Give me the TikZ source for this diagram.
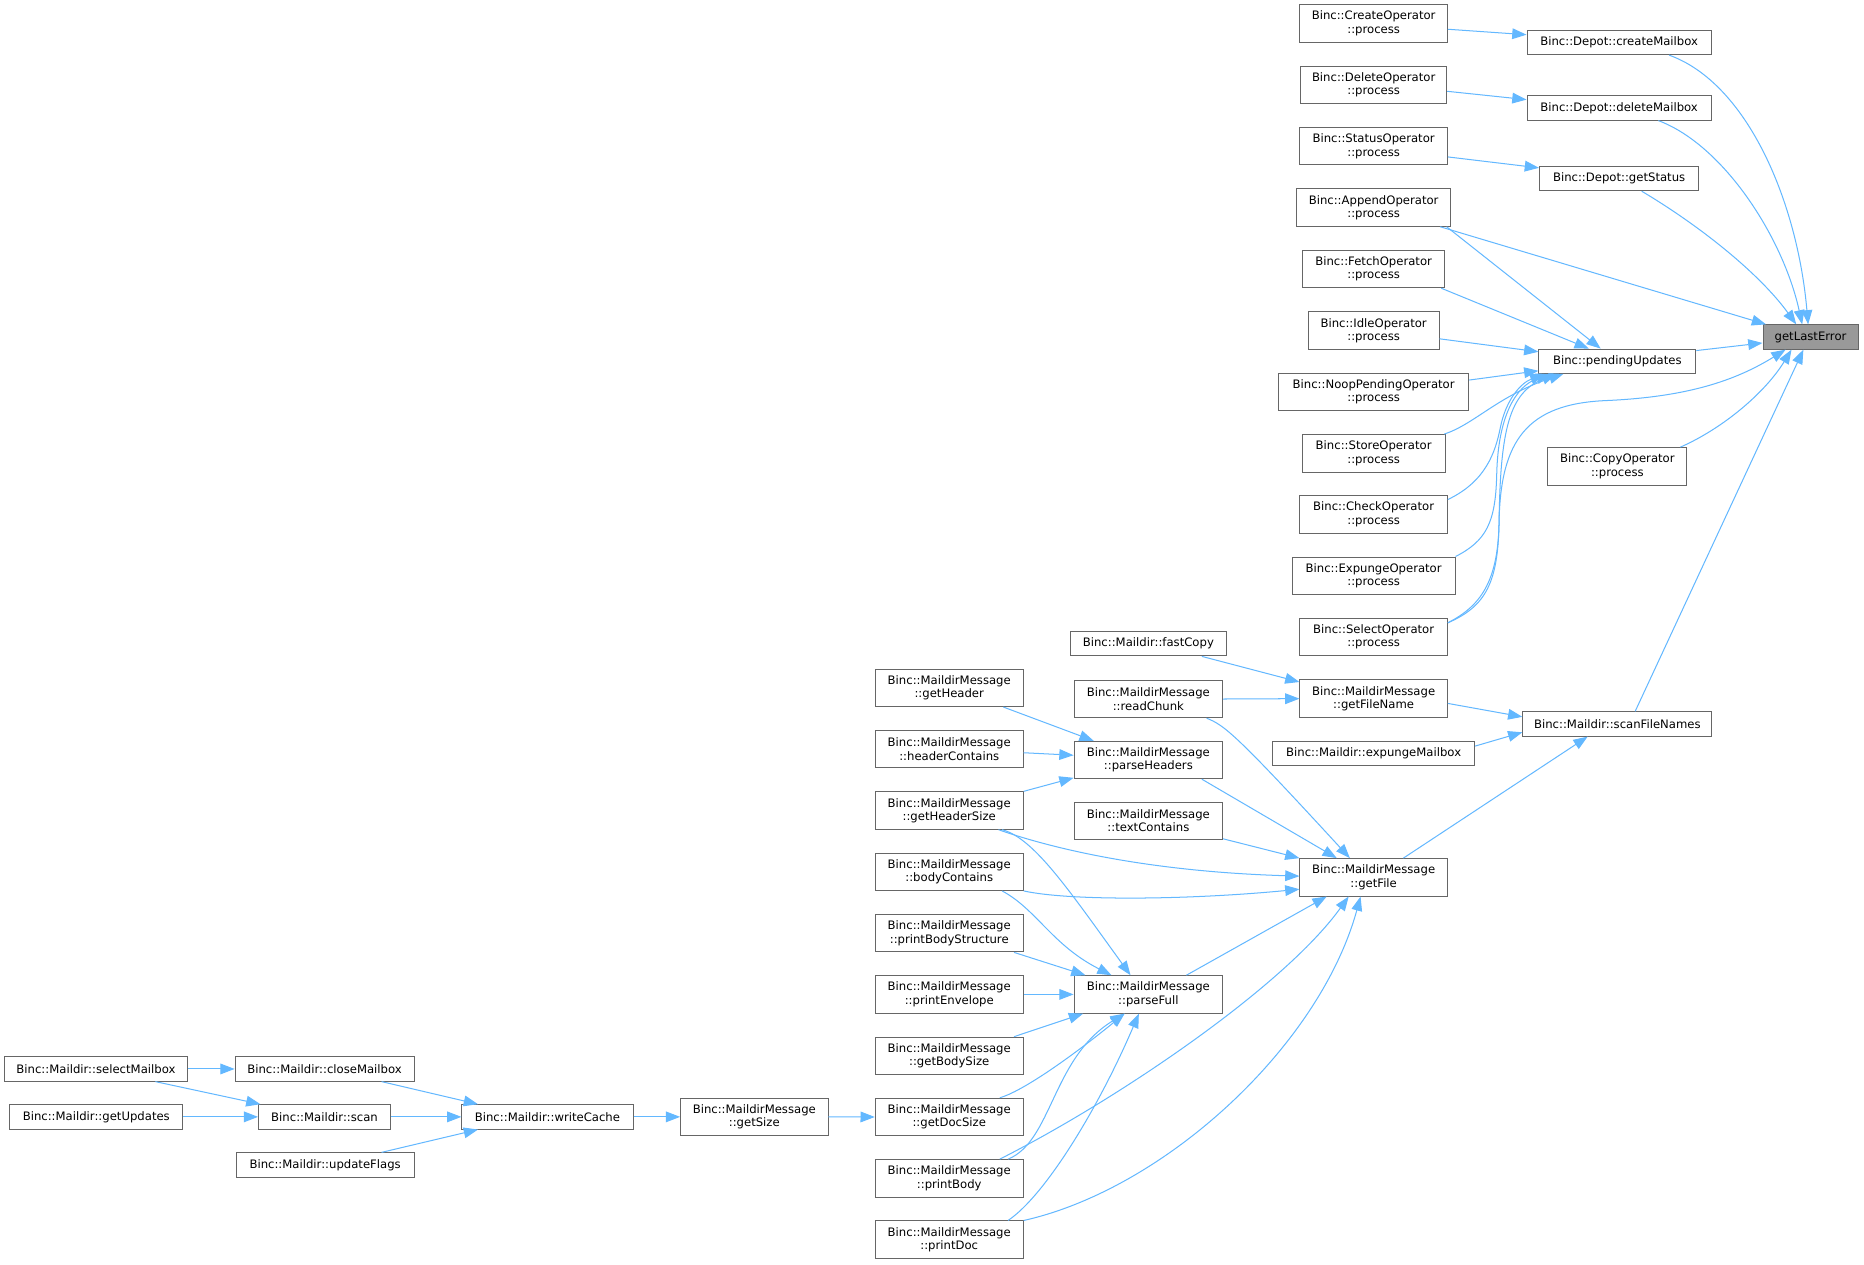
\documentclass[tikz,border=0pt]{standalone}
\usepackage{fontspec}
\setmainfont{DejaVu Sans}
\usetikzlibrary{arrows.meta,calc}
\definecolor{edgec}{HTML}{63B8FF}
\definecolor{boxc}{HTML}{666666}
\definecolor{hlc}{HTML}{999999}
\newcommand\dgfont{\fontsize{9.8}{11.2}\selectfont}
\tikzset{
  box/.style={draw=boxc, line width=0.8pt, fill=white, inner sep=0pt, align=center, font=\dgfont, minimum height=31.5pt},
  sbox/.style={box, minimum height=20.5pt},
  edge/.style={draw=edgec, line width=0.85pt, -{Triangle[length=12pt,width=9pt]}},
}
\begin{document}
\begin{tikzpicture}[x=1pt,y=-1pt]
\fill[white] (0,0) rectangle (1568,1063.3);
\useasboundingbox (0,0) rectangle (1568,1063.3);
% right
\node[sbox, fill=hlc, minimum width=80pt] (gle) at (1523,283.5) {getLastError};
\node[sbox, minimum width=155pt] (cmb) at (1362,35.7) {Binc::Depot::createMailbox};
\node[sbox, minimum width=155pt] (dmb) at (1362,90.8) {Binc::Depot::deleteMailbox};
\node[sbox, minimum width=134pt] (gst) at (1362,150.2) {Binc::Depot::getStatus};
\node[sbox, minimum width=132pt] (pu) at (1360.5,303.9) {Binc::pendingUpdates};
\node[box, minimum width=117pt] (copy) at (1360.5,392.3) {Binc::CopyOperator\\::process};
\node[sbox, minimum width=159pt] (sfn) at (1360.5,609) {Binc::Maildir::scanFileNames};
% column 3
\node[box, minimum width=124pt] (cop) at (1155.5,19.6) {Binc::CreateOperator\\::process};
\node[box, minimum width=123pt] (delop) at (1155.5,71.3) {Binc::DeleteOperator\\::process};
\node[box, minimum width=124pt] (stop) at (1155.5,123) {Binc::StatusOperator\\::process};
\node[box, minimum width=130pt] (apop) at (1155.5,174.6) {Binc::AppendOperator\\::process};
\node[box, minimum width=119pt] (feop) at (1155.5,226.3) {Binc::FetchOperator\\::process};
\node[box, minimum width=110pt] (idop) at (1155.5,278) {Binc::IdleOperator\\::process};
\node[box, minimum width=160pt] (noop) at (1155.5,329.7) {Binc::NoopPendingOperator\\::process};
\node[box, minimum width=120pt] (stoo) at (1155.5,381.3) {Binc::StoreOperator\\::process};
\node[box, minimum width=124pt] (chop) at (1155.5,432.7) {Binc::CheckOperator\\::process};
\node[box, minimum width=137pt] (exop) at (1155.5,484.3) {Binc::ExpungeOperator\\::process};
\node[box, minimum width=124pt] (seop) at (1155.5,535.9) {Binc::SelectOperator\\::process};
\node[box, minimum width=124pt] (gfn) at (1155.5,587.7) {Binc::MaildirMessage\\::getFileName};
\node[sbox, minimum width=170pt] (emb) at (1155.5,633.6) {Binc::Maildir::expungeMailbox};
\node[box, minimum width=124pt] (gf) at (1155.5,738) {Binc::MaildirMessage\\::getFile};
% column 4
\node[sbox, minimum width=131pt] (fc) at (966,541.5) {Binc::Maildir::fastCopy};
\node[box, minimum width=125pt] (rc) at (966,588) {Binc::MaildirMessage\\::readChunk};
\node[box, minimum width=125pt] (ph) at (966,639.3) {Binc::MaildirMessage\\::parseHeaders};
\node[box, minimum width=125pt] (tc) at (966,690.6) {Binc::MaildirMessage\\::textContains};
\node[box, minimum width=125pt] (pf) at (966,836.5) {Binc::MaildirMessage\\::parseFull};
% column 5
\node[box, minimum width=124.5pt] (gh) at (798.5,578.6) {Binc::MaildirMessage\\::getHeader};
\node[box, minimum width=124.5pt] (hc) at (798.5,630.2) {Binc::MaildirMessage\\::headerContains};
\node[box, minimum width=124.5pt] (ghs) at (798.5,681.8) {Binc::MaildirMessage\\::getHeaderSize};
\node[box, minimum width=124.5pt] (bc) at (798.5,733.3) {Binc::MaildirMessage\\::bodyContains};
\node[box, minimum width=124.5pt] (pbs) at (798.5,785) {Binc::MaildirMessage\\::printBodyStructure};
\node[box, minimum width=124.5pt] (pe) at (798.5,836.5) {Binc::MaildirMessage\\::printEnvelope};
\node[box, minimum width=124.5pt] (gbs) at (798.5,888.2) {Binc::MaildirMessage\\::getBodySize};
\node[box, minimum width=124.5pt] (gds) at (798.5,939.6) {Binc::MaildirMessage\\::getDocSize};
\node[box, minimum width=124.5pt] (pb) at (798.5,991.2) {Binc::MaildirMessage\\::printBody};
\node[box, minimum width=124.5pt] (pd) at (798.5,1042.8) {Binc::MaildirMessage\\::printDoc};
% left
\node[box, minimum width=124pt] (gsz) at (634.5,939.5) {Binc::MaildirMessage\\::getSize};
\node[sbox, minimum width=144pt] (wc) at (460.5,939.5) {Binc::Maildir::writeCache};
\node[sbox, minimum width=150.5pt] (cmbx) at (273,899.2) {Binc::Maildir::closeMailbox};
\node[sbox, minimum width=111pt] (scan) at (273,939.5) {Binc::Maildir::scan};
\node[sbox, minimum width=149.5pt] (uf) at (273.5,980) {Binc::Maildir::updateFlags};
\node[sbox, minimum width=154pt] (smb) at (80.7,899.2) {Binc::Maildir::selectMailbox};
\node[sbox, minimum width=145.6pt] (gu) at (81,939.5) {Binc::Maildir::getUpdates};
% edges top
\draw[edge] ($(cop.east)+(0,5)$) -- ($(cmb.west)+(0,-6.5)$);
\draw[edge] ($(delop.east)+(0,5.5)$) -- ($(dmb.west)+(0,-7)$);
\draw[edge] ($(stop.east)+(0,9)$) -- ($(gst.west)+(0,-9)$);
\draw[edge] ($(cmb.south)+(42,0)$) .. controls (1470,70) and (1512,170) .. ($(gle.north)+(-2,0)$);
\draw[edge] ($(dmb.south)+(33,0)$) .. controls (1450,122) and (1500,200) .. ($(gle.north)+(-7,0)$);
\draw[edge] ($(gst.south)+(19,0)$) .. controls (1430,190) and (1480,230) .. ($(gle.north)+(-12,0)$);
\draw[edge] ($(apop.south)+(56,0)$) -- ($(gle.north west)+(3,0)$);
\draw[edge] ($(pu.east)+(0,-9)$) -- ($(gle.west)+(0,5)$);
\draw[edge] ($(seop.east)+(0,-12)$) .. controls (1245,510) and (1260,490) .. (1261,440) .. controls (1262,370) and (1285,340) .. (1350,337) .. controls (1420,334) and (1460,320) .. ($(gle.south)+(-21,0)$);
\draw[edge] ($(copy.north)+(53,0)$) .. controls (1450,360) and (1485,330) .. ($(gle.south)+(-16,0)$);
\draw[edge] ($(sfn.north)+(15,0)$) -- ($(gle.south)+(-6,0)$);
\draw[edge] ($(apop.south east)+(-4,0)$) -- ($(pu.north)+(-14,0)$);
\draw[edge] ($(feop.south east)+(-3,0)$) -- ($(pu.north)+(-24,0)$);
\draw[edge] ($(idop.east)+(0,7)$) -- ($(pu.west)+(0,-8)$);
\draw[edge] ($(noop.east)+(0,-10)$) -- ($(pu.west)+(0,8)$);
\draw[edge] ($(stoo.north east)+(-1,0)$) .. controls (1240,357) and (1260,333) .. ($(pu.south west)+(21,0)$);
\draw[edge] ($(chop.east)+(0,-12.5)$) .. controls (1250,405) and (1258,380) .. (1262,360) .. controls (1267,335) and (1280,322) .. ($(pu.south west)+(5,0)$);
\draw[edge] (exop.north east) .. controls (1250,455) and (1258,440) .. (1259,400) .. controls (1260,350) and (1275,325) .. ($(pu.south west)+(10,0)$);
\draw[edge] ($(seop.east)+(0,-12)$) .. controls (1250,510) and (1260,490) .. (1261,440) .. controls (1262,360) and (1270,330) .. ($(pu.south west)+(15,0)$);
% edges middle
\draw[edge] ($(gfn.east)+(0,4)$) -- ($(sfn.west)+(0,-6)$);
\draw[edge] ($(emb.east)+(0,-6)$) -- ($(sfn.west)+(0,7)$);
\draw[edge] ($(gf.north)+(25,0)$) -- ($(sfn.south)+(-25,0)$);
\draw[edge] ($(fc.south)+(45,0)$) -- ($(gfn.west)+(0,-14)$);
\draw[edge] (rc.east) -- (gfn.west);
\draw[edge] ($(rc.south)+(49,0)$) .. controls (1030,610) and (1040,618) .. ($(gf.north)+(-20,0)$);
\draw[edge] ($(ph.south)+(45,0)$) -- ($(gf.north)+(-31,0)$);
\draw[edge] ($(tc.east)+(0,15)$) -- (gf.north west);
\draw[edge] ($(ghs.south)+(41.5,0)$) .. controls (880,712) and (960,733) .. ($(gf.west)+(0,-1)$);
\draw[edge] (bc.south east) .. controls (900,758) and (1000,757) .. ($(gf.west)+(0,10)$);
\draw[edge] ($(gh.south)+(45.5,0)$) -- ($(ph.north)+(-46,0)$);
\draw[edge] ($(hc.east)+(0,3)$) -- ($(ph.west)+(0,-4)$);
\draw[edge] (ghs.north east) -- ($(ph.west)+(0,15)$);
\draw[edge] ($(ghs.south)+(44.5,0)$) .. controls (870,705) and (900,750) .. ($(pf.north)+(-15,0)$);
\draw[edge] ($(bc.south)+(44.5,0)$) .. controls (872,765) and (885,795) .. ($(pf.north)+(-31,0)$);
\draw[edge] ($(pbs.south)+(54.5,0)$) -- ($(pf.north west)+(10,0)$);
\draw[edge] (pe.east) -- (pf.west);
\draw[edge] ($(pf.north)+(32,0)$) -- ($(gf.south)+(-39.5,0)$);
\draw[edge] ($(gbs.north)+(54.5,0)$) -- ($(pf.south west)+(8,0)$);
\draw[edge] ($(gds.north)+(42.5,0)$) .. controls (860,918) and (900,890) .. ($(pf.south)+(-20,0)$);
\draw[edge] ($(pb.north)+(49.5,0)$) .. controls (885,960) and (885,890) .. ($(pf.south)+(-20,0)$);
\draw[edge] ($(pd.north)+(49.5,0)$) .. controls (880,1005) and (925,930) .. ($(pf.south)+(-8,0)$);
\draw[edge] ($(pb.north)+(42.5,0)$) .. controls (940,925) and (1080,830) .. ($(gf.south)+(-21,0)$);
\draw[edge] (pd.north east) .. controls (980,1000) and (1110,880) .. ($(gf.south)+(-11,0)$);
% edges left
\draw[edge] (gsz.east) -- (gds.west);
\draw[edge] (wc.east) -- (gsz.west);
\draw[edge] ($(cmbx.south)+(48,0)$) -- ($(wc.north west)+(14,0)$);
\draw[edge] (scan.east) -- (wc.west);
\draw[edge] ($(uf.north)+(47.5,0)$) -- ($(wc.south west)+(14,0)$);
\draw[edge] (smb.east) -- (cmbx.west);
\draw[edge] ($(smb.south)+(50,0)$) -- ($(scan.north west)+(2,0)$);
\draw[edge] (gu.east) -- (scan.west);
\end{tikzpicture}
\end{document}
